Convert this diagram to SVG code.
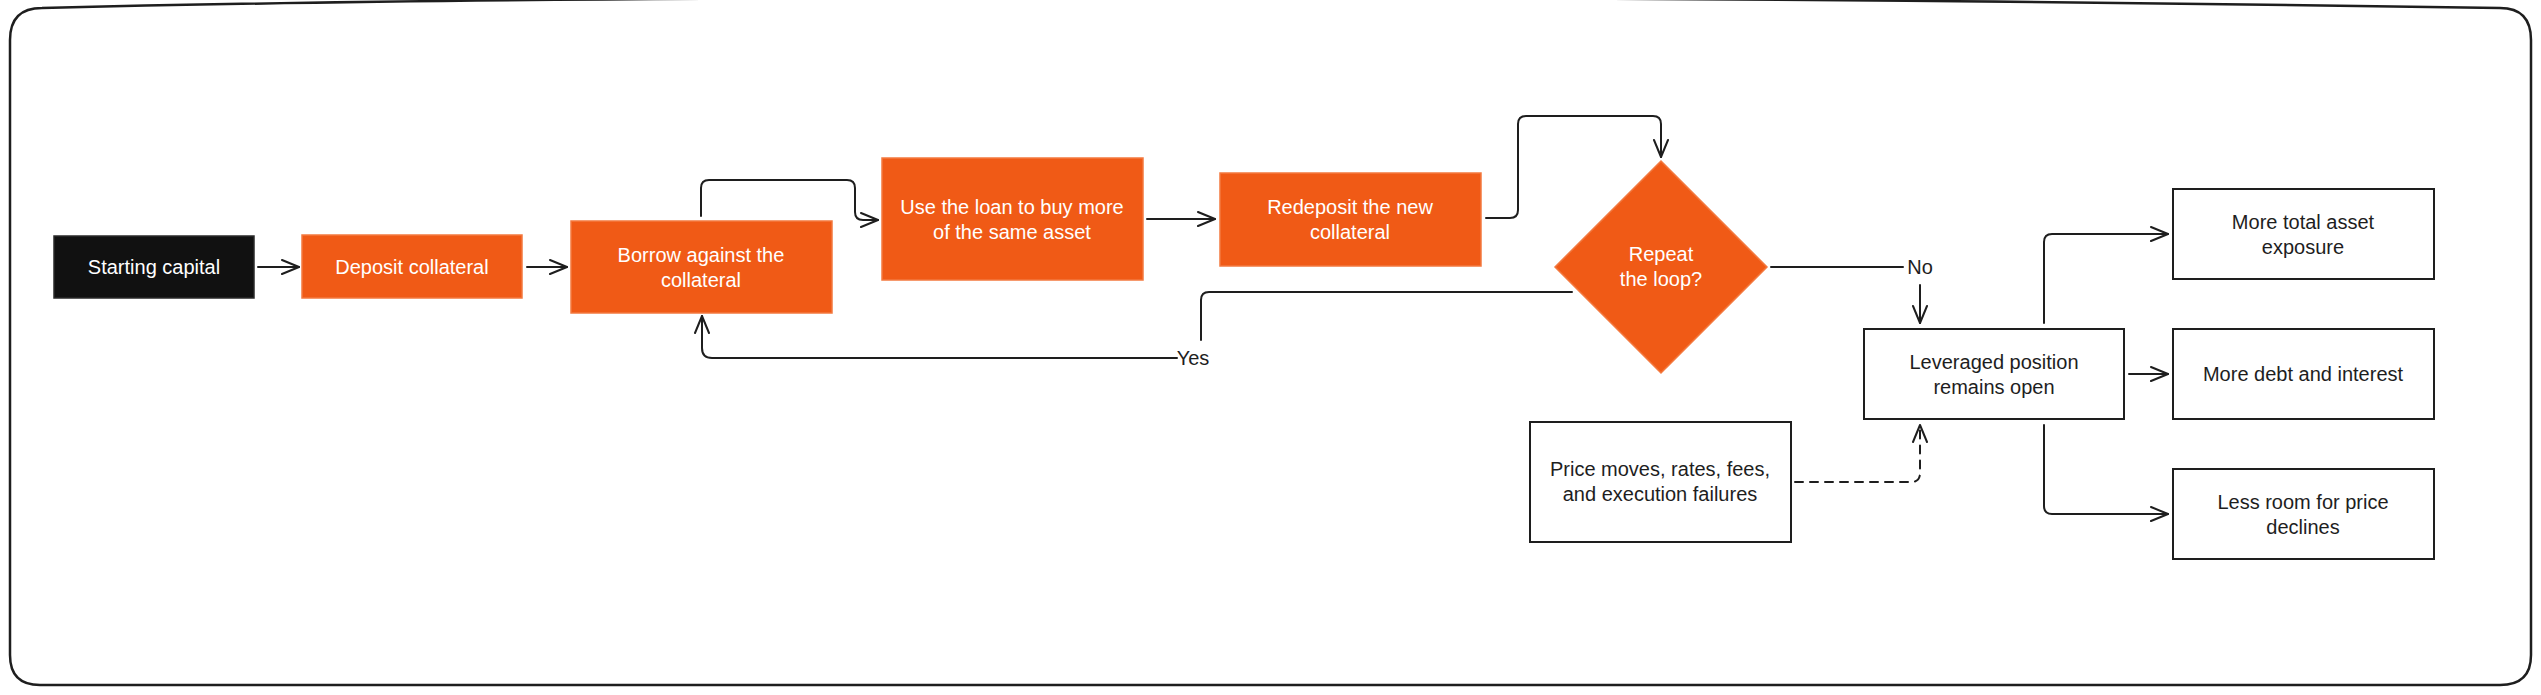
<svg xmlns="http://www.w3.org/2000/svg" width="2541" height="695" viewBox="0 0 2541 695">
<defs>
<style>
.frame{fill:#ffffff;stroke:#1e1e1e;stroke-width:2.5}
.org{fill:#f05a16;stroke:#f3793f;stroke-width:1.5}
.blk{fill:#111111;stroke:#2a2a2a;stroke-width:1.5}
.wht{fill:#ffffff;stroke:#1e1e1e;stroke-width:2}
.tw{font-family:"Liberation Sans",Arial,sans-serif;font-size:20px;fill:#ffffff;text-anchor:middle;dominant-baseline:central}
.td{font-family:"Liberation Sans",Arial,sans-serif;font-size:20px;fill:#1e1e1e;text-anchor:middle;dominant-baseline:central}
.ln{fill:none;stroke:#1e1e1e;stroke-width:2;stroke-linecap:round;stroke-linejoin:round}
.arr{marker-end:url(#ah)}
.dash{stroke-dasharray:8 7}
</style>
<marker id="ah" viewBox="0 0 20 20" refX="19" refY="10" markerWidth="20" markerHeight="20" orient="auto" markerUnits="userSpaceOnUse">
<path d="M2,3 L19,10 L2,17" fill="none" stroke="#1e1e1e" stroke-width="2" stroke-linecap="round" stroke-linejoin="round"/>
</marker>
</defs>
<rect width="2541" height="695" fill="#ffffff"/>
<path class="frame" d="M10,40 Q10,8 42,8 C600,-6 1600,-6 2500,8 Q2531,8 2531,40 L2531,655 Q2531,685 2500,685 L40,685 Q10,685 10,655 Z"/>

<g id="connectors">
<path class="ln arr" d="M258,267 L299,267"/>
<path class="ln arr" d="M527,267 L567,267"/>
<path class="ln arr" d="M701,216 L701,188 Q701,180 709,180 L847,180 Q855,180 855,188 L855,212 Q855,220 863,220 L878,220"/>
<path class="ln arr" d="M1147,219 L1215,219"/>
<path class="ln arr" d="M1486,218 L1510,218 Q1518,218 1518,210 L1518,124 Q1518,116 1526,116 L1653,116 Q1661,116 1661,124 L1661,157"/>
<path class="ln" d="M1572,292 L1209,292 Q1201,292 1201,300 L1201,340"/>
<path class="ln arr" d="M1177,358 L712,358 Q702,358 702,348 L702,316"/>
<text class="td" x="1193" y="358">Yes</text>
<path class="ln" d="M1771,267 L1903,267"/>
<text class="td" x="1920" y="267">No</text>
<path class="ln arr" d="M1920,285 L1920,323"/>
<path class="ln arr dash" d="M1795,482 L1911,482 Q1920,482 1920,473 L1920,425"/>
<path class="ln arr" d="M2044,323 L2044,242 Q2044,234 2052,234 L2168,234"/>
<path class="ln arr" d="M2129,374 L2168,374"/>
<path class="ln arr" d="M2044,425 L2044,506 Q2044,514 2052,514 L2168,514"/>
</g>

<g id="start">
<rect class="blk" x="54" y="236" width="200" height="62"/>
<text class="tw" x="154" y="267">Starting capital</text>
</g>
<g id="deposit">
<rect class="org" x="302" y="235" width="220" height="63"/>
<text class="tw" x="412" y="267">Deposit collateral</text>
</g>
<g id="borrow">
<rect class="org" x="571" y="221" width="261" height="92"/>
<text class="tw" x="701" y="255">Borrow against the</text>
<text class="tw" x="701" y="280">collateral</text>
</g>
<g id="useloan">
<rect class="org" x="882" y="158" width="261" height="122"/>
<text class="tw" x="1012" y="207">Use the loan to buy more</text>
<text class="tw" x="1012" y="232">of the same asset</text>
</g>
<g id="redeposit">
<rect class="org" x="1220" y="173" width="261" height="93"/>
<text class="tw" x="1350" y="207">Redeposit the new</text>
<text class="tw" x="1350" y="232">collateral</text>
</g>
<g id="repeat">
<path class="org" d="M1661,161 L1767,267 L1661,373 L1555,267 Z"/>
<text class="tw" x="1661" y="254">Repeat</text>
<text class="tw" x="1661" y="279">the loop?</text>
</g>
<g id="leveraged">
<rect class="wht" x="1864" y="329" width="260" height="90"/>
<text class="td" x="1994" y="362">Leveraged position</text>
<text class="td" x="1994" y="387">remains open</text>
</g>
<g id="price">
<rect class="wht" x="1530" y="422" width="261" height="120"/>
<text class="td" x="1660" y="469">Price moves, rates, fees,</text>
<text class="td" x="1660" y="494">and execution failures</text>
</g>
<g id="exposure">
<rect class="wht" x="2173" y="189" width="261" height="90"/>
<text class="td" x="2303" y="222">More total asset</text>
<text class="td" x="2303" y="247">exposure</text>
</g>
<g id="debt">
<rect class="wht" x="2173" y="329" width="261" height="90"/>
<text class="td" x="2303" y="374">More debt and interest</text>
</g>
<g id="room">
<rect class="wht" x="2173" y="469" width="261" height="90"/>
<text class="td" x="2303" y="502">Less room for price</text>
<text class="td" x="2303" y="527">declines</text>
</g>
</svg>
